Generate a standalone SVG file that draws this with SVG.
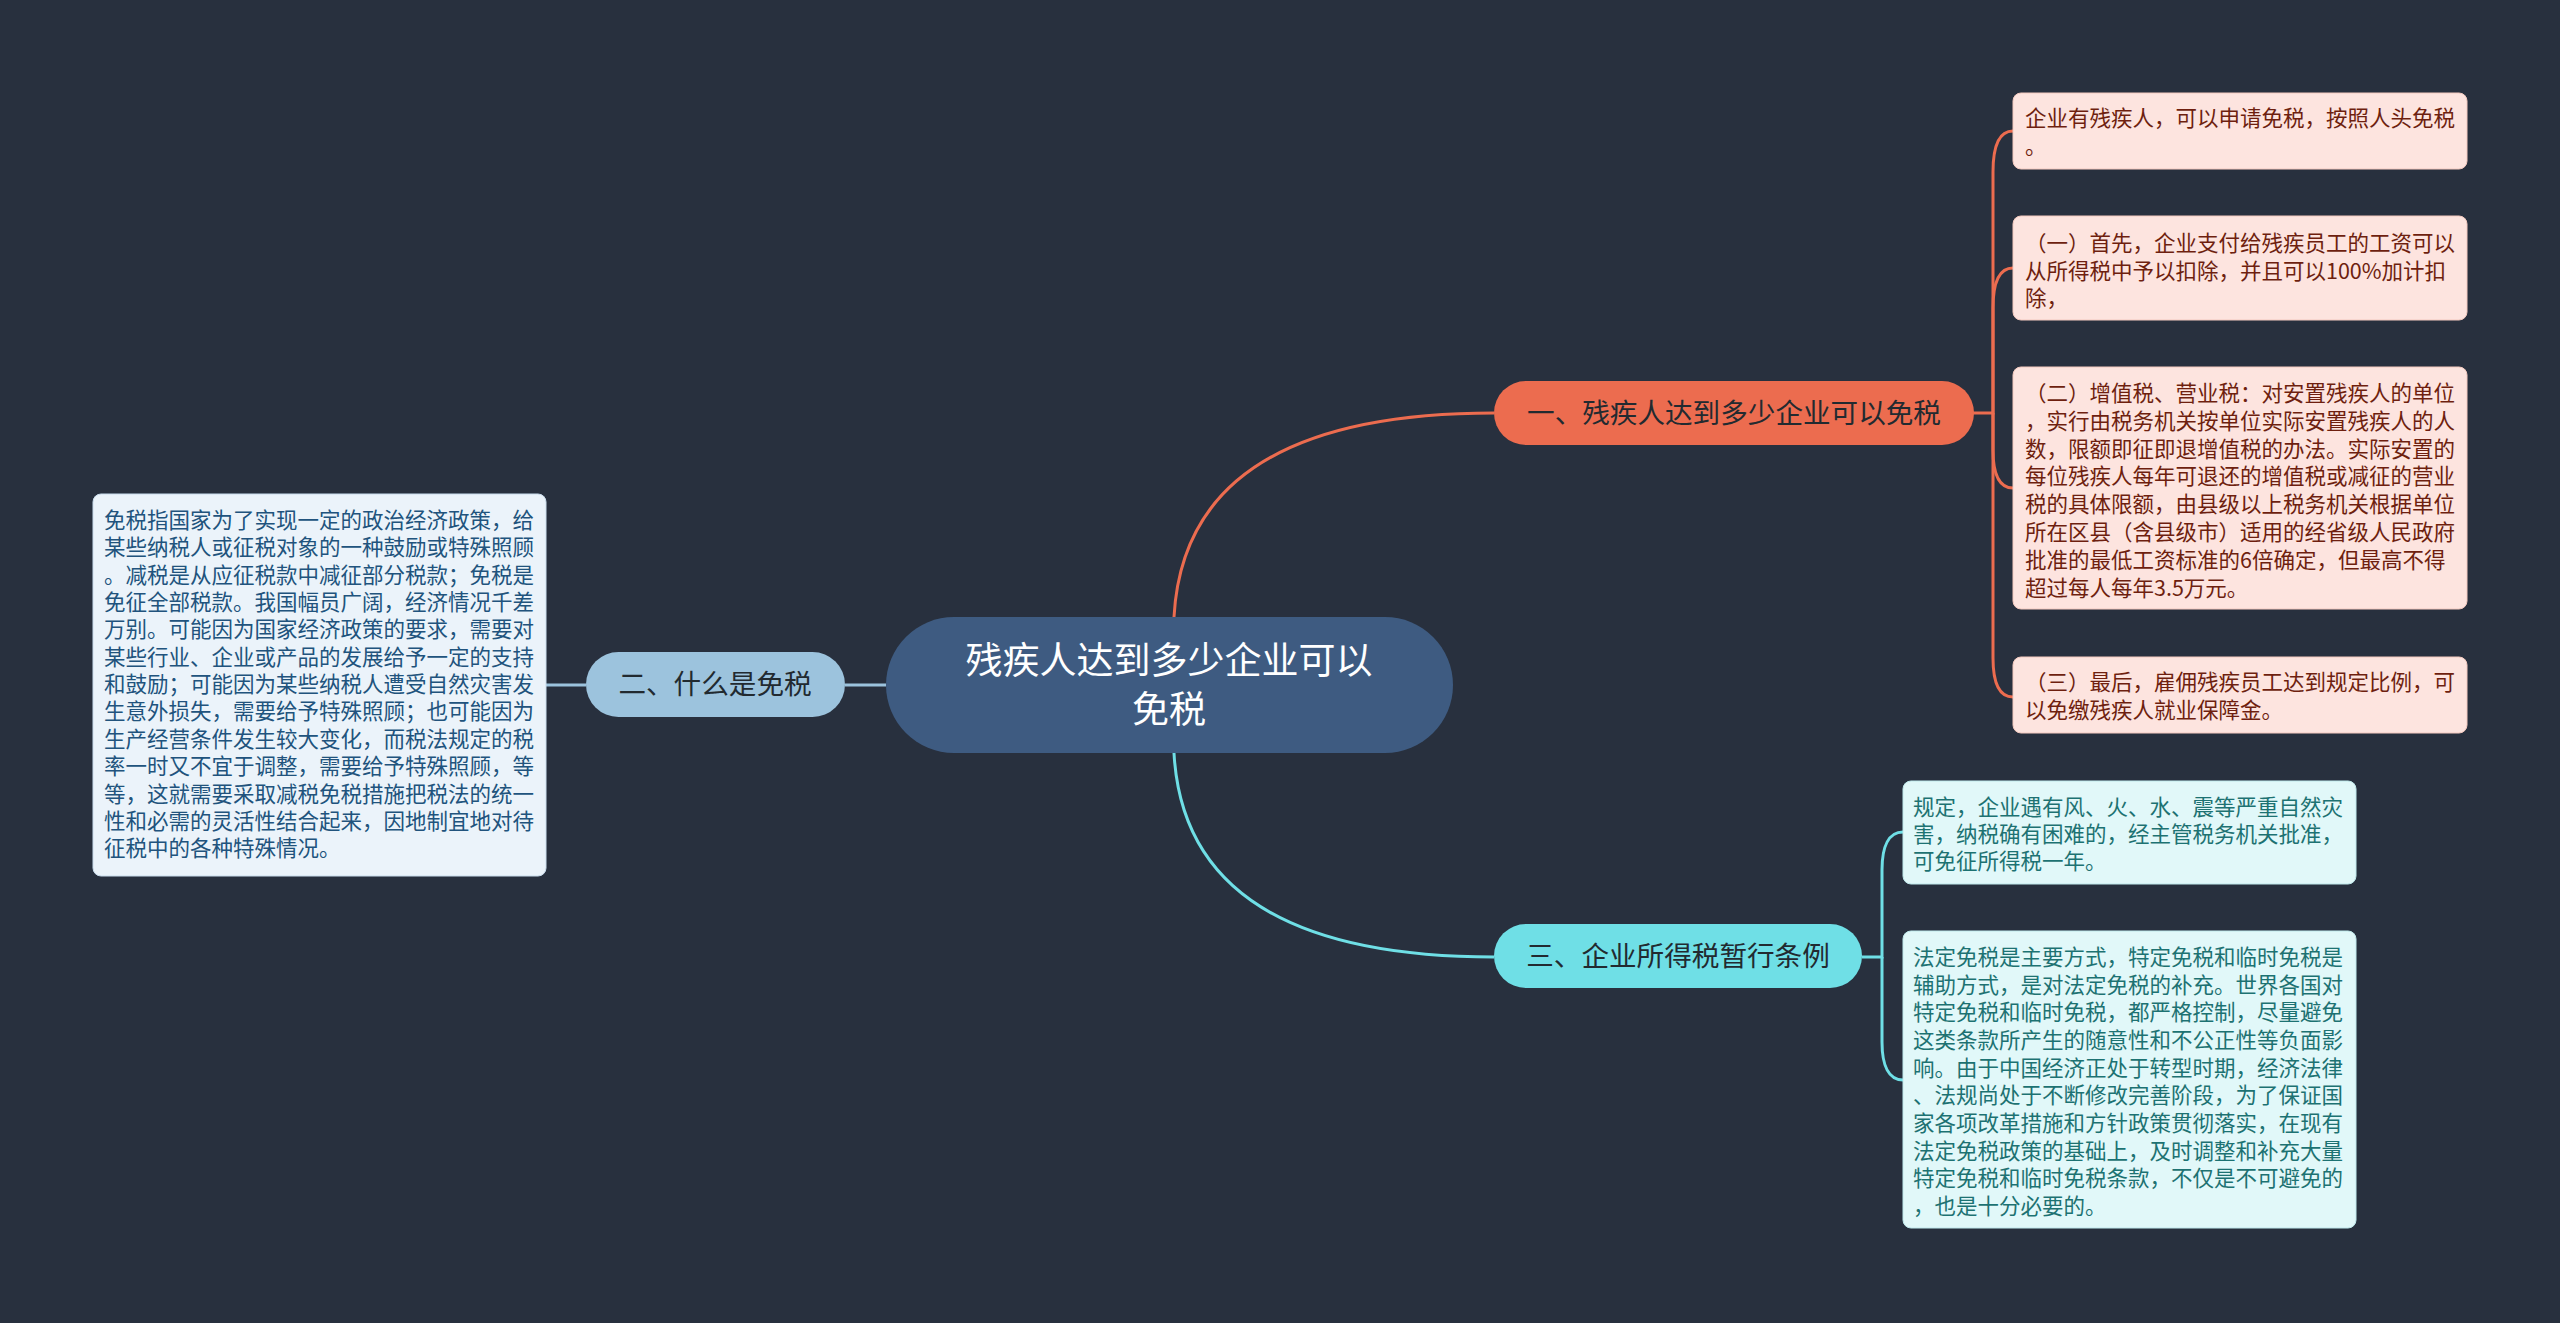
<svg xmlns="http://www.w3.org/2000/svg" width="2560" height="1323" viewBox="0 0 2560 1323">
<style>
text{font-family:"Noto Sans CJK SC","Noto Sans",sans-serif;}
.c1{fill:none;stroke:#ec6c4f;stroke-width:3;}
.c2{fill:none;stroke:#9cc3dd;stroke-width:3;}
.c3{fill:none;stroke:#6fdfe6;stroke-width:3;}
.lf{font-size:21.5px;}
.lo{fill:#fde4df;stroke:#f3c9bf;stroke-width:1;}
.lb{fill:#ebf3fa;stroke:#c9dcec;stroke-width:1;}
.lc{fill:#e1f8f9;stroke:#bfe9ec;stroke-width:1;}
.to{fill:#6e1f0f;}
.tb{fill:#21537d;}
.tc{fill:#1d7272;}
.br{font-size:27.6px;fill:#222a30;}
</style>
<rect width="2560" height="1323" fill="#28303e"/>
<g id="connectors">
<path class="c1" d="M1174 617 Q1185 413 1494 413"/>
<path class="c3" d="M1174 753 Q1185 957 1494 957"/>
<path class="c2" d="M845 685 H886"/>
<path class="c2" d="M546 685 H586"/>
<path class="c1" d="M1973 413 H1993 V172 C1993 147 1999 131 2013 131"/>
<path class="c1" d="M1993 413 V308 C1993 283 1999 268 2013 268"/>
<path class="c1" d="M1993 413 V450 C1993 475 1999 488 2013 488"/>
<path class="c1" d="M1993 413 V658 C1993 683 1999 697 2013 697"/>
<path class="c3" d="M1862 957 H1882 V870 C1882 846 1889 832 1903 832"/>
<path class="c3" d="M1882 957 V1042 C1882 1066 1889 1080 1903 1080"/>
</g>
<g id="center">
<rect x="886" y="617" width="567" height="136" rx="68" fill="#3e5b81"/>
<text x="1169" y="674" font-size="37" fill="#ffffff" text-anchor="middle">残疾人达到多少企业可以</text>
<text x="1169" y="723" font-size="37" fill="#ffffff" text-anchor="middle">免税</text>
</g>
<g id="branch1">
<rect x="1494" y="381" width="480" height="64" rx="32" fill="#ec6c4f"/>
<text class="br" x="1734" y="423" text-anchor="middle" fill="#2e1c18">一、残疾人达到多少企业可以免税</text>
</g>
<g id="branch2">
<rect x="586" y="652" width="259" height="65" rx="32.5" fill="#9cc3dd"/>
<text class="br" x="715" y="694" text-anchor="middle">二、什么是免税</text>
</g>
<g id="branch3">
<rect x="1494" y="924" width="368" height="64" rx="32" fill="#6fdfe6"/>
<text class="br" x="1678" y="966" text-anchor="middle">三、企业所得税暂行条例</text>
</g>
<g id="leaf1a">
<rect class="lo" x="2013" y="93" width="454" height="76" rx="8"/>
<text class="lf to" x="2025" y="126">企业有残疾人，可以申请免税，按照人头免税</text>
<text class="lf to" x="2025" y="154">。</text>
</g>
<g id="leaf1b">
<rect class="lo" x="2013" y="216" width="454" height="104" rx="8"/>
<text class="lf to" x="2025" y="251">（一）首先，企业支付给残疾员工的工资可以</text>
<text class="lf to" x="2025" y="278.5">从所得税中予以扣除，并且可以100%加计扣</text>
<text class="lf to" x="2025" y="306">除，</text>
</g>
<g id="leaf1c">
<rect class="lo" x="2013" y="367" width="454" height="242" rx="8"/>
<text class="lf to" x="2025" y="401">（二）增值税、营业税：对安置残疾人的单位</text>
<text class="lf to" x="2025" y="428.8">，实行由税务机关按单位实际安置残疾人的人</text>
<text class="lf to" x="2025" y="456.6">数，限额即征即退增值税的办法。实际安置的</text>
<text class="lf to" x="2025" y="484.4">每位残疾人每年可退还的增值税或减征的营业</text>
<text class="lf to" x="2025" y="512.2">税的具体限额，由县级以上税务机关根据单位</text>
<text class="lf to" x="2025" y="540">所在区县（含县级市）适用的经省级人民政府</text>
<text class="lf to" x="2025" y="567.8">批准的最低工资标准的6倍确定，但最高不得</text>
<text class="lf to" x="2025" y="595.6">超过每人每年3.5万元。</text>
</g>
<g id="leaf1d">
<rect class="lo" x="2013" y="657" width="454" height="76" rx="8"/>
<text class="lf to" x="2025" y="690">（三）最后，雇佣残疾员工达到规定比例，可</text>
<text class="lf to" x="2025" y="718">以免缴残疾人就业保障金。</text>
</g>
<g id="leaf2">
<rect class="lb" x="93" y="494" width="453" height="382" rx="8"/>
<text class="lf tb" x="104" y="528">免税指国家为了实现一定的政治经济政策，给</text>
<text class="lf tb" x="104" y="555.35">某些纳税人或征税对象的一种鼓励或特殊照顾</text>
<text class="lf tb" x="104" y="582.7">。减税是从应征税款中减征部分税款；免税是</text>
<text class="lf tb" x="104" y="610.05">免征全部税款。我国幅员广阔，经济情况千差</text>
<text class="lf tb" x="104" y="637.4">万别。可能因为国家经济政策的要求，需要对</text>
<text class="lf tb" x="104" y="664.75">某些行业、企业或产品的发展给予一定的支持</text>
<text class="lf tb" x="104" y="692.1">和鼓励；可能因为某些纳税人遭受自然灾害发</text>
<text class="lf tb" x="104" y="719.45">生意外损失，需要给予特殊照顾；也可能因为</text>
<text class="lf tb" x="104" y="746.8">生产经营条件发生较大变化，而税法规定的税</text>
<text class="lf tb" x="104" y="774.15">率一时又不宜于调整，需要给予特殊照顾，等</text>
<text class="lf tb" x="104" y="801.5">等，这就需要采取减税免税措施把税法的统一</text>
<text class="lf tb" x="104" y="828.85">性和必需的灵活性结合起来，因地制宜地对待</text>
<text class="lf tb" x="104" y="856.2">征税中的各种特殊情况。</text>
</g>
<g id="leaf3a">
<rect class="lc" x="1903" y="781" width="453" height="103" rx="8"/>
<text class="lf tc" x="1913" y="815">规定，企业遇有风、火、水、震等严重自然灾</text>
<text class="lf tc" x="1913" y="842">害，纳税确有困难的，经主管税务机关批准，</text>
<text class="lf tc" x="1913" y="869">可免征所得税一年。</text>
</g>
<g id="leaf3b">
<rect class="lc" x="1903" y="931" width="453" height="297" rx="8"/>
<text class="lf tc" x="1913" y="965">法定免税是主要方式，特定免税和临时免税是</text>
<text class="lf tc" x="1913" y="992.67">辅助方式，是对法定免税的补充。世界各国对</text>
<text class="lf tc" x="1913" y="1020.34">特定免税和临时免税，都严格控制，尽量避免</text>
<text class="lf tc" x="1913" y="1048">这类条款所产生的随意性和不公正性等负面影</text>
<text class="lf tc" x="1913" y="1075.68">响。由于中国经济正处于转型时期，经济法律</text>
<text class="lf tc" x="1913" y="1103.35">、法规尚处于不断修改完善阶段，为了保证国</text>
<text class="lf tc" x="1913" y="1131">家各项改革措施和方针政策贯彻落实，在现有</text>
<text class="lf tc" x="1913" y="1158.7">法定免税政策的基础上，及时调整和补充大量</text>
<text class="lf tc" x="1913" y="1186.36">特定免税和临时免税条款，不仅是不可避免的</text>
<text class="lf tc" x="1913" y="1214">，也是十分必要的。</text>
</g>
</svg>
